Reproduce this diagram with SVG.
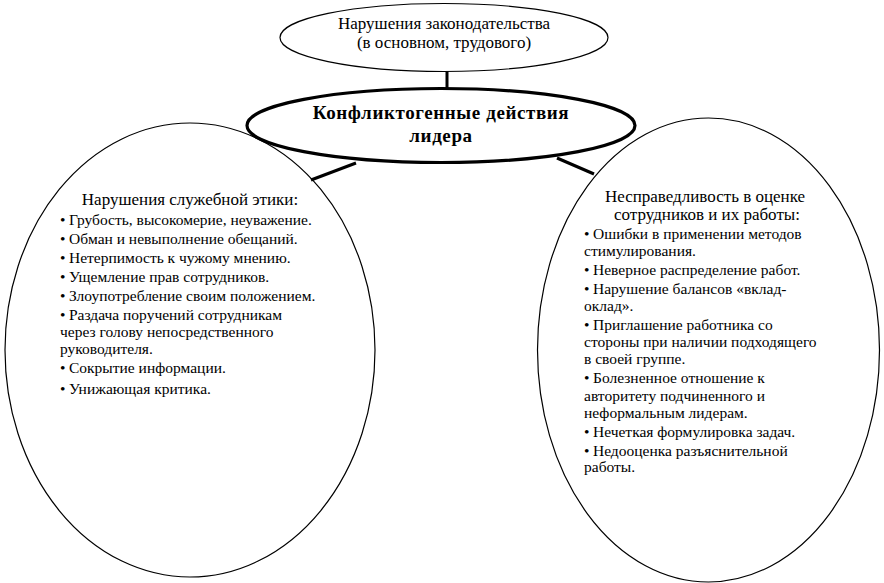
<svg xmlns="http://www.w3.org/2000/svg" width="884" height="583" viewBox="0 0 884 583" font-family="'Liberation Serif', 'DejaVu Serif', serif">
<style>
.e{fill:#fff;stroke:#000;stroke-width:1.2}
.eb{fill:#fff;stroke:#000;stroke-width:3.2}
.c{stroke:#000;stroke-width:3;fill:none}
.t{font-family:'Liberation Serif',serif;font-size:17px;text-anchor:middle;fill:#000}
.b{font-family:'Liberation Serif',serif;font-size:19px;font-weight:bold;text-anchor:middle;letter-spacing:0.6px;fill:#000}
.s{font-family:'Liberation Serif',serif;font-size:15.5px;fill:#000}
</style>
<rect width="884" height="583" fill="#fff"/>
<g id="node-left">
<ellipse class="e" cx="190" cy="350" rx="185" ry="227"/>
<text class="t" x="190" y="205">Нарушения служебной этики:</text>
<text class="s" x="60" y="225">•</text><text class="s" x="69" y="225">Грубость, высокомерие, неуважение.</text>
<text class="s" x="60" y="244">•</text><text class="s" x="69" y="244">Обман и невыполнение обещаний.</text>
<text class="s" x="60" y="263">•</text><text class="s" x="69" y="263">Нетерпимость к чужому мнению.</text>
<text class="s" x="60" y="282">•</text><text class="s" x="69" y="282">Ущемление прав сотрудников.</text>
<text class="s" x="60" y="301">•</text><text class="s" x="69" y="301">Злоупотребление своим положением.</text>
<text class="s" x="60" y="320">•</text><text class="s" x="69" y="320">Раздача поручений сотрудникам</text>
<text class="s" x="60" y="337">через голову непосредственного</text>
<text class="s" x="60" y="354">руководителя.</text>
<text class="s" x="60" y="373">•</text><text class="s" x="69" y="373">Сокрытие информации.</text>
<text class="s" x="60" y="394">•</text><text class="s" x="69" y="394">Унижающая критика.</text>
</g>
<g id="node-right">
<ellipse class="e" cx="708.5" cy="350" rx="171" ry="232"/>
<text class="t" x="705" y="202">Несправедливость в оценке</text>
<text class="t" x="707" y="220">сотрудников и их работы:</text>
<text class="s" x="584" y="239">•</text><text class="s" x="593" y="239">Ошибки в применении методов</text>
<text class="s" x="584" y="256">стимулирования.</text>
<text class="s" x="584" y="275">•</text><text class="s" x="593" y="275">Неверное распределение работ.</text>
<text class="s" x="584" y="294">•</text><text class="s" x="593" y="294">Нарушение балансов «вклад-</text>
<text class="s" x="584" y="311">оклад».</text>
<text class="s" x="584" y="330">•</text><text class="s" x="593" y="330">Приглашение работника со</text>
<text class="s" x="584" y="347">стороны при наличии подходящего</text>
<text class="s" x="584" y="364">в своей группе.</text>
<text class="s" x="584" y="383">•</text><text class="s" x="593" y="383">Болезненное отношение к</text>
<text class="s" x="584" y="401">авторитету подчиненного и</text>
<text class="s" x="584" y="418">неформальным лидерам.</text>
<text class="s" x="584" y="437">•</text><text class="s" x="593" y="437">Нечеткая формулировка задач.</text>
<text class="s" x="584" y="456">•</text><text class="s" x="593" y="456">Недооценка разъяснительной</text>
<text class="s" x="584" y="472">работы.</text>
</g>
<g id="connectors">
<line class="c" x1="447" y1="71" x2="447" y2="89" stroke-width="2.2"/>
<line class="c" x1="356" y1="163" x2="311" y2="180"/>
<line class="c" x1="557" y1="158" x2="594" y2="174"/>
</g>
<g id="node-top">
<ellipse class="e" cx="444" cy="37.5" rx="164" ry="34"/>
<text class="t" x="444" y="29">Нарушения законодательства</text>
<text class="t" x="444" y="48">(в основном, трудового)</text>
</g>
<g id="node-center">
<ellipse class="eb" cx="441" cy="125.5" rx="194" ry="37"/>
<text class="b" x="441" y="119">Конфликтогенные действия</text>
<text class="b" x="441" y="142">лидера</text>
</g>
</svg>
